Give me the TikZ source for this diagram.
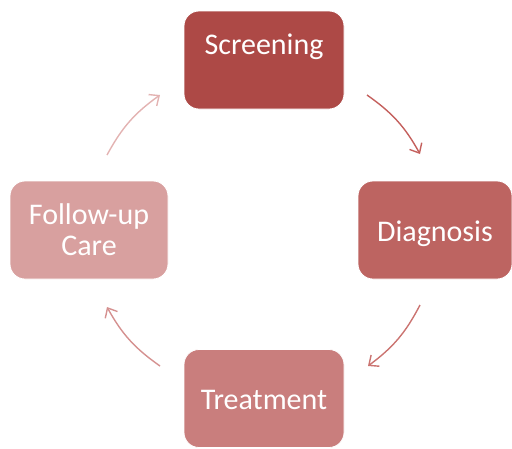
\documentclass[tikz,border=0pt]{standalone}
\usepackage{fontspec}
\setmainfont{Carlito}
\usetikzlibrary{arrows.meta}
\definecolor{scrfill}{HTML}{AD4946}
\definecolor{diafill}{HTML}{BD6461}
\definecolor{trtfill}{HTML}{C97E7D}
\definecolor{fupfill}{HTML}{D8A09F}
\definecolor{arrA}{HTML}{C4605D}
\definecolor{arrB}{HTML}{CB7471}
\definecolor{arrC}{HTML}{D59190}
\definecolor{arrD}{HTML}{E3B3B2}
\tikzset{
  stage/.style={rectangle, rounded corners=15pt, draw=white, line width=0.8pt,
    text=white, minimum width=160pt, minimum height=98pt, inner sep=0pt,
    font=\fontsize{30}{31}\selectfont},
  oneline/.style={text height=22pt, text depth=0pt},
  cyc/.style={-{Straight Barb[length=8pt,width=14pt]}, line width=1.4pt},
}
\begin{document}
\begin{tikzpicture}[x=1pt,y=-1pt]
\useasboundingbox (0,0) rectangle (512,448);
\node[stage, oneline, fill=scrfill, text depth=34pt] at (264,60) (scr) {Screening};
\node[stage, oneline, fill=diafill, minimum width=154pt] at (435,230) (dia) {Diagnosis};
\node[stage, oneline, fill=trtfill] at (264,398.5) (trt) {Treatment};
\node[stage, fill=fupfill, minimum width=158pt, align=center] at (89,230) (fup) {Follow-up\\Care};
% ends of the arcs
\coordinate (a1) at (367,95);
\coordinate (a2) at (420,154);
\coordinate (b1) at (420,305);
\coordinate (b2) at (368,366);
\coordinate (c1) at (160,366);
\coordinate (c2) at (107,307);
\coordinate (d1) at (107,155);
\coordinate (d2) at (160,95);
\draw[cyc, arrA] (a1) to [bend left=13] (a2);
\draw[cyc, arrB] (b1) to [bend left=13] (b2);
\draw[cyc, arrC] (c1) to [bend left=13] (c2);
\draw[cyc, arrD] (d1) to [bend left=13] (d2);
\end{tikzpicture}
\end{document}
